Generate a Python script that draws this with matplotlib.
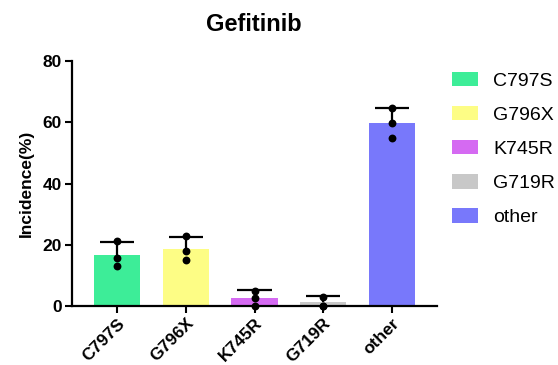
import matplotlib
matplotlib.use("Agg")
import matplotlib.pyplot as plt
import numpy as np
from matplotlib.patches import Patch

plt.rcParams['font.family'] = ['Liberation Sans', 'DejaVu Sans']

categories = ["C797S", "G796X", "K745R", "G719R", "other"]
means = [16.7, 18.7, 2.6, 1.4, 59.8]
err_upper = [4.1, 4.0, 2.6, 2.0, 4.8]
points = [
    [21.2, 15.7, 13.2],
    [23.0, 18.1, 15.0],
    [5.0, 2.6, 0.0],
    [2.9, 0.0, 0.0],
    [64.6, 59.9, 55.0],
]
colors = ["#3ded98", "#fdfd85", "#d56af2", "#c8c8c8", "#7878fb"]

fig = plt.figure(figsize=(5.58, 3.65), dpi=100)
ax = fig.add_axes([0.1285, 0.1616, 0.654, 0.6704])

x = np.arange(len(categories))
m = np.array(means)
e = np.array(err_upper)
ax.bar(x, m, width=0.67, color=colors, zorder=1)
ax.vlines(x, m, m + e, colors='black', linewidth=1.6, zorder=2)
ax.hlines(m + e, x - 0.25, x + 0.25, colors='black', linewidth=1.6, zorder=2)
for i, pts in enumerate(points):
    ax.scatter([x[i]] * len(pts), pts, s=32, color='black', zorder=3,
               clip_on=False, linewidths=0)

ax.set_xlim(-0.66, 4.65)
ax.set_ylim(0, 80)
ax.set_yticks([0, 20, 40, 60, 80])
ax.set_xticks(x)
ax.set_xticklabels(categories, rotation=45, ha='right', rotation_mode='anchor',
                   fontsize=12.5, fontweight='bold')
for lab in ax.get_yticklabels():
    lab.set_fontweight('bold')
    lab.set_fontsize(12.5)
ax.tick_params(axis='both', direction='out', length=5, width=1.5, pad=2)
ax.spines['top'].set_visible(False)
ax.spines['right'].set_visible(False)
ax.spines['left'].set_linewidth(1.6)
ax.spines['bottom'].set_linewidth(1.6)

ax.set_ylabel("Incidence(%)", fontsize=12.5, fontweight='bold', labelpad=6)
ax.set_title("Gefitinib", fontsize=17, fontweight='bold', pad=22)

handles = [Patch(facecolor=c, edgecolor='none') for c in colors]
fig.legend(handles, categories, loc='upper left', bbox_to_anchor=(0.81, 0.804),
           frameon=False, fontsize=14, handlelength=1.34, handleheight=0.77,
           labelspacing=0.83, handletextpad=0.77, borderpad=0, borderaxespad=0)

fig.savefig("out.png", dpi=100)
